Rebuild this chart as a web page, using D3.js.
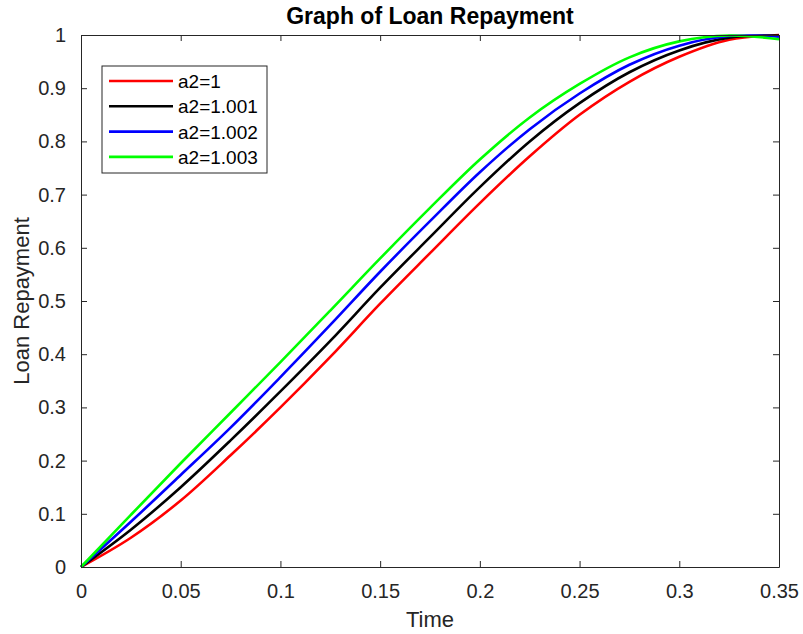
<!doctype html>
<html>
<head>
<meta charset="utf-8">
<script src="https://d3js.org/d3.v7.min.js"></script>
<style>
  body { margin: 0; background: #fff; }
  svg { font-family: "Liberation Sans", Arial, sans-serif; }
</style>
</head>
<body>
<svg width="803" height="634"></svg>
<script>
// time samples and values
const time     = [0, 0.025, 0.05, 0.075, 0.1, 0.125, 0.15, 0.175, 0.2, 0.225, 0.25, 0.275, 0.3, 0.325, 0.35];
const a2_1     = [0, 0.055, 0.125, 0.210, 0.300, 0.395, 0.495, 0.590, 0.684, 0.772, 0.850, 0.912, 0.959, 0.991, 1.000];
const a2_1001  = [0, 0.070, 0.150, 0.238, 0.330, 0.425, 0.525, 0.620, 0.714, 0.800, 0.872, 0.930, 0.971, 0.995, 0.999];
const a2_1002  = [0, 0.085, 0.173, 0.262, 0.357, 0.455, 0.555, 0.650, 0.742, 0.823, 0.890, 0.944, 0.980, 0.998, 0.997];
const a2_1003  = [0, 0.098, 0.195, 0.290, 0.385, 0.482, 0.580, 0.675, 0.766, 0.845, 0.908, 0.958, 0.988, 0.999, 0.992];
const labels = ["a2=1", "a2=1.001", "a2=1.002", "a2=1.003"];
const colors = ["#ff0000", "#000000", "#0000ff", "#00ff00"];
const xTicks = [0, 0.05, 0.1, 0.15, 0.2, 0.25, 0.3, 0.35];
const yTicks = [0, 0.1, 0.2, 0.3, 0.4, 0.5, 0.6, 0.7, 0.8, 0.9, 1];

const series = [a2_1, a2_1001, a2_1002, a2_1003];

const svg = d3.select("svg");
const L = 81, R = 779, T = 35, B = 567;
const x = d3.scaleLinear().domain([0, 0.35]).range([L, R]);
const y = d3.scaleLinear().domain([0, 1]).range([B, T]);
const axisColor = "#262626";

// curves
const line = d3.line()
  .x(function(d, i) { return x(time[i]); })
  .y(function(d) { return y(d); })
  .curve(d3.curveCatmullRom.alpha(0.5));

svg.append("g").selectAll("path")
  .data(series)
  .enter()
  .append("path")
    .attr("d", line)
    .attr("fill", "none")
    .attr("stroke", function(d, i) { return colors[i]; })
    .attr("stroke-width", 2.6);

// axes (ticks inward, box on)
function styleAxis(g) {
  g.select(".domain").attr("stroke", axisColor);
  g.selectAll(".tick line").attr("stroke", axisColor);
  g.selectAll("text").attr("fill", axisColor).style("font-size", "20px")
    .style("font-family", "'Liberation Sans', Arial, sans-serif");
}
svg.append("g").attr("transform", "translate(0," + B + ")")
  .call(d3.axisBottom(x).tickValues(xTicks).tickSizeInner(-6).tickSizeOuter(0).tickPadding(17).tickFormat(d3.format("~g")))
  .call(styleAxis);
svg.append("g").attr("transform", "translate(0," + T + ")")
  .call(d3.axisTop(x).tickValues(xTicks).tickSizeInner(-6).tickSizeOuter(0).tickFormat(""))
  .call(styleAxis);
svg.append("g").attr("transform", "translate(" + L + ",0)")
  .call(d3.axisLeft(y).tickValues(yTicks).tickSizeInner(-6).tickSizeOuter(0).tickPadding(15).tickFormat(d3.format("~g")))
  .call(styleAxis);
svg.append("g").attr("transform", "translate(" + R + ",0)")
  .call(d3.axisRight(y).tickValues(yTicks).tickSizeInner(-6).tickSizeOuter(0).tickFormat(""))
  .call(styleAxis);

// titles
svg.append("text")
  .attr("x", (L + R) / 2).attr("y", 24)
  .attr("text-anchor", "middle")
  .style("font-size", "23px").style("font-weight", "bold")
  .attr("fill", "#000")
  .text("Graph of Loan Repayment");
svg.append("text")
  .attr("x", (L + R) / 2).attr("y", 627)
  .attr("text-anchor", "middle")
  .style("font-size", "22px").attr("fill", axisColor)
  .text("Time");
svg.append("text")
  .attr("transform", "translate(29," + ((T + B) / 2) + ") rotate(-90)")
  .attr("text-anchor", "middle")
  .style("font-size", "22px").attr("fill", axisColor)
  .text("Loan Repayment");

// legend
const leg = svg.append("g");
leg.append("rect")
  .attr("x", 102).attr("y", 66).attr("width", 165).attr("height", 107)
  .attr("fill", "#fff").attr("stroke", axisColor).attr("stroke-width", 1);
const rows = leg.selectAll("g.row")
  .data(labels)
  .enter()
  .append("g")
    .attr("class", "row")
    .attr("transform", function(d, i) { return "translate(0," + (81 + i * 25.3) + ")"; });
rows.append("line")
  .attr("x1", 109).attr("x2", 173).attr("y1", 0).attr("y2", 0)
  .attr("stroke", function(d, i) { return colors[i]; })
  .attr("stroke-width", 2.6);
rows.append("text")
  .attr("x", 178).attr("y", 7)
  .style("font-size", "19px").attr("fill", "#000")
  .text(function(d) { return d; });
</script>
</body>
</html>
